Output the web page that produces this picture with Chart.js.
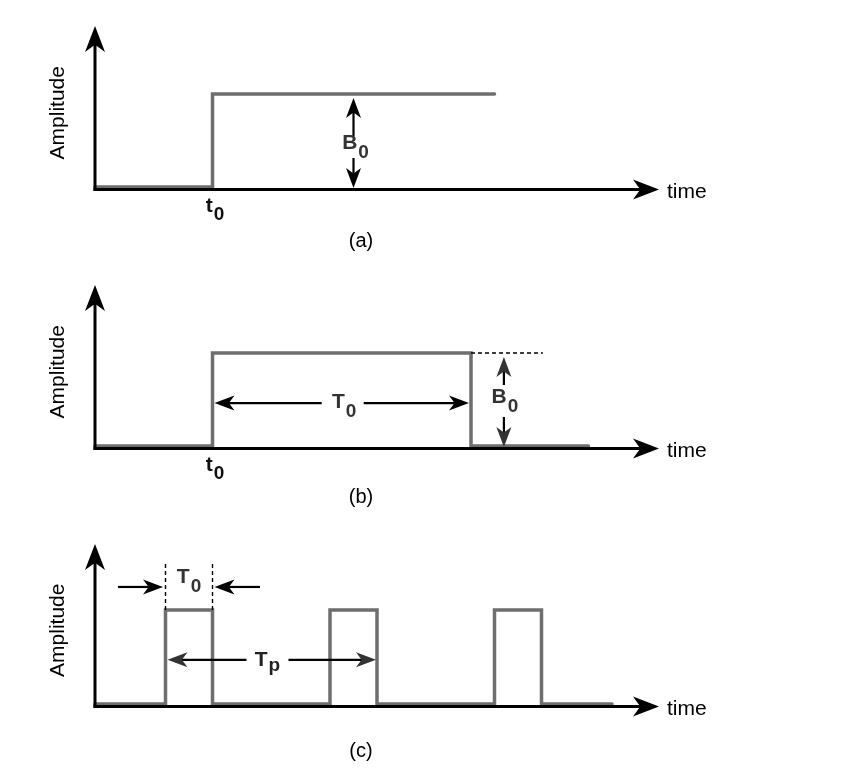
<!DOCTYPE html>
<html>
<head>
<meta charset="utf-8">
<script src="https://cdn.jsdelivr.net/npm/chart.js@4.4.1/dist/chart.umd.min.js"></script>
<style>
    html, body { margin: 0; padding: 0; background: #fff; }
    #wrap { position: relative; width: 849px; height: 784px; }
    #wrap canvas { position: absolute; left: 0; }
</style>
</head>
<body>
<div id="wrap">
    <canvas id="stepChart" width="849" height="262" style="top:0"></canvas>
    <canvas id="pulseChart" width="849" height="260" style="top:262px"></canvas>
    <canvas id="trainChart" width="849" height="262" style="top:522px"></canvas>
</div>
<script>
// (a) step at t0
const stepTime = [0, 2.5, 2.5, 8.5]
const stepAmp = [0, 0, 1, 1]
// (b) single pulse of width T0
const pulseTime = [0, 2.5, 2.5, 8, 8, 10.5]
const pulseAmp = [0, 0, 1, 1, 0, 0]
// (c) pulse train, period Tp
const trainTime = [0, 1.5, 1.5, 2.5, 2.5, 5, 5, 6, 6, 8.5, 8.5, 9.5, 9.5, 11]
const trainAmp = [0, 0, 1, 1, 0, 0, 1, 1, 0, 0, 1, 1, 0, 0]

const captions = ['(a)', '(b)', '(c)']
const xTitle = 'time'
const yTitle = 'Amplitude'

const FONT = '"Liberation Sans", Arial, Helvetica, sans-serif'
const SIGNAL = '#6e6e6e'
const INK = '#000'
const LABEL = '#333'

const toPoints = (xs, ys) => xs.map((x, i) => ({ x: x, y: ys[i] }))

// notched filled arrow head, tip at (x, y)
const head = (ctx, x, y, angle, len, half) => {
    ctx.save()
    ctx.translate(x, y)
    ctx.rotate(angle)
    ctx.beginPath()
    ctx.moveTo(0, 0)
    ctx.lineTo(-len, -half)
    ctx.lineTo(-len * 0.72, 0)
    ctx.lineTo(-len, half)
    ctx.closePath()
    ctx.fill()
    ctx.restore()
}

const arrow = (ctx, x1, y1, x2, y2, len, half, lw) => {
    const a = Math.atan2(y2 - y1, x2 - x1)
    ctx.lineWidth = lw
    ctx.beginPath()
    ctx.moveTo(x1, y1)
    ctx.lineTo(x2 - Math.cos(a) * len * 0.7, y2 - Math.sin(a) * len * 0.7)
    ctx.stroke()
    head(ctx, x2, y2, a, len, half)
}

// two arrows running out from a gap (where the label sits) to both ends
const dimension = (ctx, x1, y1, x2, y2, mid, half) => {
    if (x1 === x2) {
        arrow(ctx, x1, mid - half, x1, y1, 20, 7.5, 2.2)
        arrow(ctx, x1, mid + half, x2, y2, 20, 7.5, 2.2)
    } else {
        arrow(ctx, mid - half, y1, x1, y1, 20, 7.5, 2.2)
        arrow(ctx, mid + half, y1, x2, y2, 20, 7.5, 2.2)
    }
}

const dashed = (ctx, x1, y1, x2, y2) => {
    ctx.save()
    ctx.lineWidth = 1.4
    ctx.setLineDash([4, 3])
    ctx.beginPath()
    ctx.moveTo(x1, y1)
    ctx.lineTo(x2, y2)
    ctx.stroke()
    ctx.restore()
}

const subText = (ctx, main, sub, cx, base, drop, color) => {
    const big = `bold 21px ${FONT}`
    const small = `bold 19px ${FONT}`
    ctx.font = big
    const w1 = ctx.measureText(main).width
    ctx.font = small
    const w2 = ctx.measureText(sub).width
    const left = cx - (w1 + 1 + w2) / 2
    ctx.fillStyle = color
    ctx.textAlign = 'left'
    ctx.textBaseline = 'alphabetic'
    ctx.font = big
    ctx.fillText(main, left, base)
    ctx.font = small
    ctx.fillText(sub, left + w1 + 1, base + drop)
}

const schematic = (setup) => ({
    id: 'schematic',
    afterDatasetsDraw(chart) {
        const { ctx, chartArea, scales: { x, y } } = chart
        const px = v => x.getPixelForValue(v)
        const py = v => y.getPixelForValue(v)
        const axisY = py(0) + 2.5

        ctx.save()
        ctx.strokeStyle = INK
        ctx.fillStyle = INK
        ctx.lineCap = 'butt'

        // axes with arrow heads
        arrow(ctx, chartArea.left, axisY + 1.5, chartArea.left, chartArea.top, 26, 10, 3)
        arrow(ctx, chartArea.left - 1.5, axisY, chartArea.right, axisY, 26, 10, 3)

        ctx.font = `21px ${FONT}`
        ctx.textAlign = 'left'
        ctx.textBaseline = 'middle'
        ctx.fillText(xTitle, chartArea.right + 8, axisY + 3)

        ctx.save()
        ctx.translate(chartArea.left - 37, (chartArea.top + axisY) / 2 + 5)
        ctx.rotate(-Math.PI / 2)
        ctx.textAlign = 'center'
        ctx.fillText(yTitle, 0, 0)
        ctx.restore()

        ctx.font = `20px ${FONT}`
        ctx.textAlign = 'center'
        ctx.textBaseline = 'middle'
        ctx.fillText(setup.caption, chartArea.left + 266, setup.captionY)

        setup.draw(ctx, px, py)
        ctx.restore()
    }
})

const makePanel = (id, xs, ys, setup) => new Chart(document.getElementById(id), {
    type: 'scatter',
    data: {
        datasets: [{
            data: toPoints(xs, ys),
            showLine: true,
            borderColor: SIGNAL,
            borderWidth: 3.5,
            borderCapStyle: 'round',
            borderJoinStyle: 'miter',
            pointRadius: 0,
            clip: false
        }]
    },
    options: {
        responsive: false,
        animation: false,
        events: [],
        layout: { padding: setup.padding },
        plugins: { legend: { display: false }, tooltip: { enabled: false } },
        scales: {
            x: { type: 'linear', min: 0, max: 12, display: false },
            y: { type: 'linear', min: 0, max: setup.yMax, display: false }
        }
    },
    plugins: [schematic(setup)]
})

window.addEventListener('load', () => {
    // (a)
    makePanel('stepChart', stepTime, stepAmp, {
        padding: { left: 95, right: 190, top: 26, bottom: 75 },
        yMax: 1.731,
        caption: captions[0],
        captionY: 241,
        draw: (ctx, px, py) => {
            const bx = px(5.5)
            const mid = py(0.43)
            dimension(ctx, bx, py(1) + 4, bx, py(0) + 1, mid, 11)
            subText(ctx, 'B', '0', bx + 2, mid + 2, 9, LABEL)
            subText(ctx, 't', '0', px(stepTime[1]) + 2.5, py(0) + 25, 8, '#111')
        }
    })

    // (b)
    makePanel('pulseChart', pulseTime, pulseAmp, {
        padding: { left: 95, right: 190, top: 23, bottom: 76 },
        yMax: 1.731,
        caption: captions[1],
        captionY: 235,
        draw: (ctx, px, py) => {
            const ty = py(0.462)
            const tmid = px(5.27)
            dimension(ctx, px(pulseTime[1]) + 2, ty, px(pulseTime[3]) - 2, ty, tmid, 21)
            subText(ctx, 'T', '0', tmid + 1.5, ty + 5, 9, LABEL)

            dashed(ctx, px(pulseTime[3]), py(1), px(9.53), py(1))

            const bx = px(8.7)
            const bmid = py(0.484)
            dimension(ctx, bx, py(1) + 4, bx, py(0) + 1, bmid, 16)
            subText(ctx, 'B', '0', bx + 1, bmid + 2, 9, LABEL)

            subText(ctx, 't', '0', px(pulseTime[1]) + 2.5, py(0) + 25, 8, '#111')
        }
    })

    // (c)
    makePanel('trainChart', trainTime, trainAmp, {
        padding: { left: 95, right: 190, top: 22, bottom: 80 },
        yMax: 1.702,
        caption: captions[2],
        captionY: 229,
        draw: (ctx, px, py) => {
            const x1 = px(trainTime[1])
            const x2 = px(trainTime[3])
            dashed(ctx, x1, py(1), x1, py(1.51))
            dashed(ctx, x2, py(1), x2, py(1.51))

            const wy = py(1.245)
            arrow(ctx, px(0.49), wy, x1 - 2.5, wy, 20, 7.5, 2.2)
            arrow(ctx, px(3.51), wy, x2 + 2, wy, 20, 7.5, 2.2)
            subText(ctx, 'T', '0', (x1 + x2) / 2, wy - 4, 9, LABEL)

            const py2 = py(0.47)
            const pmid = px(3.67)
            dimension(ctx, x1 + 2, py2, px(trainTime[7]) - 1, py2, pmid, 21)
            subText(ctx, 'T', 'p', pmid, py2 + 6.5, 5, '#222')
        }
    })
})
</script>
</body>
</html>
